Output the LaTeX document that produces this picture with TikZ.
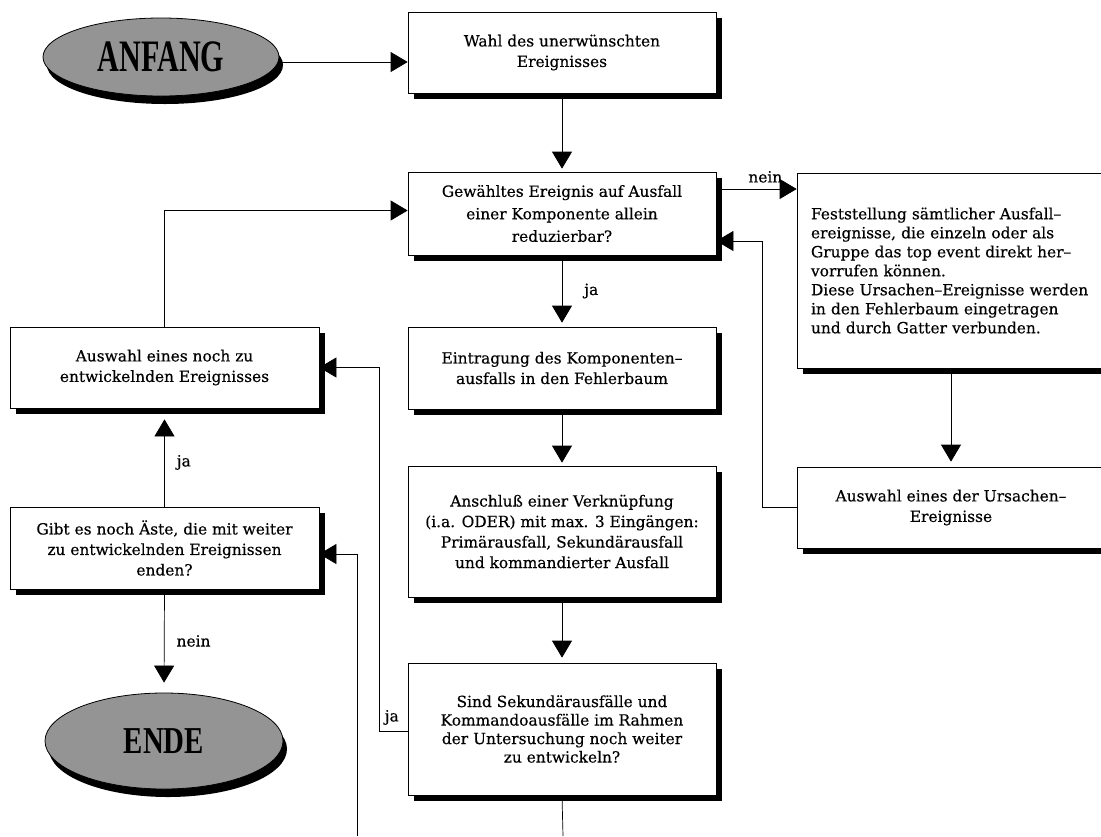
\documentclass[tikz,border=0pt]{standalone}
\usepackage{fontspec}
\setmainfont{DejaVu Serif}[FakeBold=0.4]
\newfontfamily\termfont{Liberation Serif}
\usetikzlibrary{arrows.meta,shapes.geometric,shadows}

\begin{document}
\begin{tikzpicture}[x=1pt,y=-1pt,
  box/.style={rectangle, draw=black, line width=0.7pt, fill=white, inner sep=0pt,
    align=center, minimum width=308pt,
    font=\fontsize{15.4}{20.5}\selectfont,
    drop shadow={shadow xshift=6pt, shadow yshift=-6pt, fill=black, opacity=1}},
  terminal/.style={ellipse, draw=black, line width=0.8pt, fill=black!42, inner sep=0pt,
    drop shadow={shadow xshift=4pt, shadow yshift=-8pt, fill=black, opacity=1}},
  flow/.style={line width=0.7pt, -{Triangle[length=17pt,width=20pt]}},
  plain/.style={line width=0.7pt},
  lbl/.style={font=\fontsize{15.4}{17}\selectfont, inner sep=0pt}
]
\clip (0,0) rectangle (1101,836);
\fill[white] (0,0) rectangle (1101,836);

% start and end terminals
\node[terminal, minimum width=236pt, minimum height=78pt] (start) at (161,57)
  {\termfont\bfseries\fontsize{45}{45}\selectfont\scalebox{0.67}[1]{ANFANG}};
\node[terminal, minimum width=238pt, minimum height=96pt] (stop) at (164,741)
  {\termfont\bfseries\fontsize{38}{38}\selectfont\scalebox{0.76}[1]{ENDE}};

% main column
\node[box, minimum height=81pt] (W) at (562,52.5) {Wahl des unerwünschten\\Ereignisses};
\node[box, minimum height=83pt, font=\fontsize{15.4}{22.5}\selectfont] (G) at (562,213.5)
  {Gewähltes Ereignis auf Ausfall\\einer Komponente allein\\reduzierbar?};
\node[box, minimum height=82pt] (E) at (562,368)
  {Eintragung des Komponenten--\\ausfalls in den Fehlerbaum};
\node[box, minimum height=131pt] (A) at (562,531.5)
  {Anschluß einer Verknüpfung\\(i.a. ODER) mit max. 3 Eingängen:\\Primärausfall, Sekundärausfall\\und kommandierter Ausfall};
\node[box, minimum height=132pt, font=\fontsize{15.4}{18.5}\selectfont] (S) at (562,729)
  {Sind Sekundärausfälle und\\Kommandoausfälle im Rahmen\\der Untersuchung noch weiter\\zu entwickeln?};

% right column
\node[box, minimum height=195pt, text width=280pt, align=left, font=\fontsize{15.4}{19}\selectfont] (F) at (951,270.5)
  {Feststellung sämtlicher Ausfall--\\ereignisse, die einzeln oder als\\Gruppe das top event direkt her--\\vorrufen können.\\Diese Ursachen--Ereignisse werden\\in den Fehlerbaum eingetragen\\und durch Gatter verbunden.};
\node[box, minimum height=81pt] (U) at (951,507.5)
  {Auswahl eines der Ursachen--\\Ereignisse};

% left column
\node[box, minimum width=309pt, minimum height=81pt] (AW) at (164.5,367.5)
  {Auswahl eines noch zu\\entwickelnden Ereignisses};
\node[box, minimum width=309pt, minimum height=82pt] (GE) at (164.5,548)
  {Gibt es noch Äste, die mit weiter\\zu entwickelnden Ereignissen\\enden?};

% free ends at the lower edge
\coordinate (outS) at (563,836);
\coordinate (inGE) at (357,836);

% connectors
\draw[flow] (start.east |- 0,62) -- (W.west |- 0,62);
\draw[flow, shorten >=3pt] (W.south) -- (G.north);
\draw[flow] ([yshift=24.5pt]G.east) -- ([yshift=24.5pt]G.east -| F.west)
  node[lbl, pos=0.61, above=6pt] {nein};
\draw[flow] (F.south) -- ([yshift=5pt]U.north);
\draw[flow] (U.west) -- ++(-34,0) |- ([yshift=-27.5pt]G.east);
\draw[flow, shorten >=4pt] (G.south) -- (E.north)
  node[lbl, pos=0.5, right=22pt] {ja};
\draw[flow, shorten >=3pt] (E.south) -- (A.north);
\draw[flow, shorten >=5pt] (A.south) -- (S.north);
\draw[plain] (S.south) -- (outS);
\draw[flow] ([yshift=-2pt]S.west) -- ++(-28,0) coordinate (jc) |- (AW.east);
\node[lbl, anchor=south west] at ([xshift=5pt,yshift=6pt]jc) {ja};
\draw[flow] (AW.north) |- ([yshift=3pt]G.west);
\draw[flow, shorten >=11pt] (GE.north) -- (AW.south)
  node[lbl, pos=0.45, right=12pt] {ja};
\draw[flow, shorten >=10pt] (GE.south) -- (stop.north)
  node[lbl, pos=0.5, right=12pt] {nein};
\draw[flow] (inGE) |- ([yshift=-6pt]GE.east);
\end{tikzpicture}
\end{document}
